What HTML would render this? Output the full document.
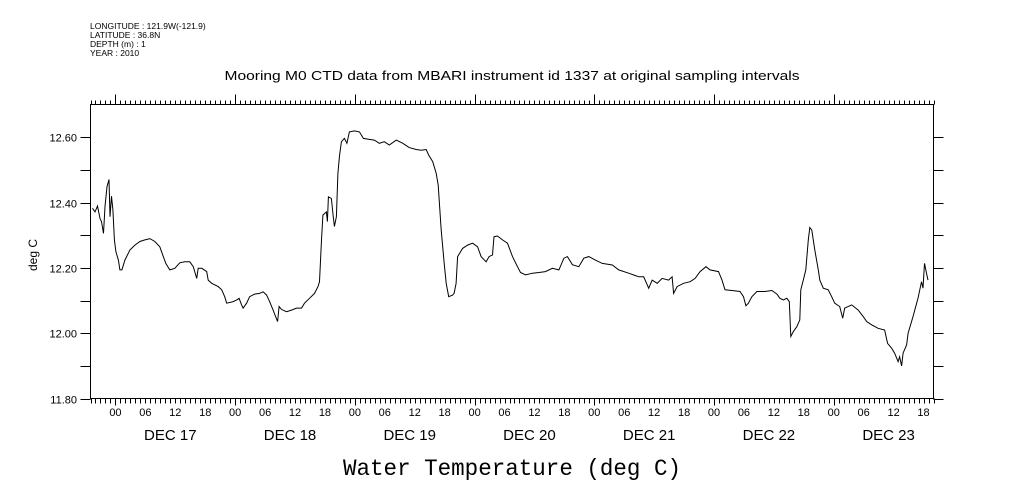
<!DOCTYPE html>
<html><head><meta charset="utf-8"><style>
html,body{margin:0;padding:0;background:#fff;}
svg{display:block;font-family:"Liberation Sans",sans-serif;}
</style></head><body>
<svg id="chart" width="1009" height="504" viewBox="0 0 1009 504">
<g font-size="8.5" fill="#000">
<text x="90" y="29">LONGITUDE : 121.9W(-121.9)</text>
<text x="90" y="38">LATITUDE : 36.8N</text>
<text x="90" y="47">DEPTH (m) : 1</text>
<text x="90" y="56">YEAR : 2010</text>
</g>
<text x="512" y="80" font-size="12.5" text-anchor="middle" textLength="575" lengthAdjust="spacingAndGlyphs">Mooring M0 CTD data from MBARI instrument id 1337 at original sampling intervals</text>
<text x="0" y="0" font-size="12" text-anchor="middle" transform="translate(37,255) rotate(-90)">deg C</text>
<text x="512" y="475" font-size="23" font-family="Liberation Mono, monospace" text-anchor="middle" textLength="338" lengthAdjust="spacingAndGlyphs">Water Temperature (deg C)</text>
<rect x="90.5" y="104.5" width="843" height="294" fill="none" stroke="#000" stroke-width="1"/>
<g id="axes"></g>
<path id="series" fill="none" stroke="#000" stroke-width="1"/>
</svg>
<script>
const hours = [-4.6,-4.1,-3.6,-3.1,-2.8,-2.4,-2.1,-1.7,-1.3,-1.1,-0.8,-0.5,-0.2,0.1,0.6,0.9,1.3,1.9,2.9,3.9,4.9,5.9,6.9,7.9,8.9,9.6,10.1,10.9,11.9,12.9,13.9,14.9,15.6,16.3,16.6,17.3,18.3,18.6,19.3,20.6,21.3,21.9,22.3,23.6,24.3,24.8,25.3,25.6,26.3,26.9,27.9,28.9,29.6,30.3,30.9,31.6,32.1,32.5,32.8,33.3,34.3,35.3,36.3,37.3,37.9,38.9,39.9,40.6,40.9,41.3,41.6,42.3,42.5,42.7,43.3,43.6,43.9,44.3,44.6,44.9,45.3,45.9,46.4,46.9,47.9,48.9,49.7,50.9,51.9,52.9,53.9,54.9,56.3,57.6,58.9,60.3,61.3,62.3,62.8,63.6,64.3,64.7,65.3,65.9,66.3,66.8,67.6,67.9,68.3,68.6,69.6,70.6,71.6,72.6,73.3,74.3,74.9,75.6,75.9,76.6,77.6,78.6,79.6,80.6,81.2,82.2,83.6,84.9,86.2,87.6,88.9,89.9,90.6,91.6,92.9,93.9,94.9,96.2,97.6,99.6,100.9,102.9,104.9,105.9,106.9,107.6,108.6,109.6,110.9,111.6,111.9,112.6,113.9,115.2,116.2,117.2,118.4,119.2,120.9,121.6,122.2,123.6,125.2,125.9,126.4,126.9,127.6,128.6,130.2,131.6,132.6,133.2,133.9,134.6,135.1,135.4,135.9,136.6,137.2,137.4,137.9,138.4,138.9,139.2,139.6,140.2,140.9,141.2,141.9,142.9,143.6,144.2,145.2,145.8,146.2,147.6,148.9,149.9,150.6,151.6,152.9,154.2,154.8,155.6,156.2,156.9,157.2,157.6,157.9,158.6,158.9,159.9,160.9,161.6,161.9,162.2,162.6,162.9];
const temps = [12.383,12.372,12.39,12.352,12.342,12.306,12.388,12.449,12.471,12.357,12.42,12.378,12.286,12.25,12.224,12.194,12.194,12.224,12.255,12.27,12.281,12.286,12.29,12.281,12.265,12.235,12.214,12.194,12.199,12.216,12.219,12.219,12.204,12.168,12.199,12.199,12.189,12.163,12.153,12.143,12.133,12.112,12.092,12.097,12.102,12.107,12.087,12.077,12.092,12.112,12.12,12.122,12.127,12.117,12.097,12.071,12.051,12.036,12.082,12.073,12.066,12.071,12.077,12.077,12.092,12.107,12.122,12.143,12.158,12.286,12.362,12.372,12.342,12.418,12.413,12.367,12.327,12.357,12.49,12.541,12.587,12.597,12.582,12.617,12.62,12.617,12.597,12.594,12.592,12.582,12.587,12.577,12.592,12.582,12.569,12.563,12.561,12.563,12.546,12.526,12.49,12.454,12.316,12.214,12.153,12.112,12.117,12.122,12.153,12.235,12.26,12.27,12.276,12.265,12.235,12.219,12.235,12.24,12.296,12.298,12.286,12.276,12.235,12.204,12.186,12.179,12.184,12.186,12.189,12.199,12.194,12.23,12.235,12.21,12.204,12.23,12.235,12.224,12.214,12.209,12.194,12.184,12.173,12.173,12.138,12.163,12.153,12.168,12.163,12.173,12.122,12.143,12.153,12.158,12.168,12.189,12.204,12.194,12.189,12.163,12.133,12.131,12.128,12.112,12.084,12.092,12.112,12.128,12.128,12.131,12.12,12.107,12.102,12.107,12.097,11.99,12.005,12.02,12.041,12.133,12.163,12.194,12.286,12.324,12.316,12.255,12.194,12.163,12.138,12.133,12.112,12.092,12.082,12.046,12.077,12.087,12.071,12.051,12.036,12.026,12.015,12.01,11.969,11.954,11.939,11.913,11.928,11.9,11.939,11.964,12.0,12.051,12.107,12.158,12.138,12.214,12.184,12.163];
const yTickValues = [11.8,11.9,12.0,12.1,12.2,12.3,12.4,12.5,12.6];
const yTickLabels = ["11.80","","12.00","","12.20","","12.40","","12.60"];
const dayLabels = ["DEC 17","DEC 18","DEC 19","DEC 20","DEC 21","DEC 22","DEC 23"];
const hourLabels = ["00","06","12","18"];

const X0=90.5, X1=933.5, Y0=104.5, Y1=398.5, HMIN=-5, HMAX=164, VMIN=11.8, VMAX=12.701;
const sx = h => X0 + (h-HMIN)/(HMAX-HMIN)*(X1-X0);
const sy = v => Y1 - (v-VMIN)/(VMAX-VMIN)*(Y1-Y0);
const NS="http://www.w3.org/2000/svg";
const axes=document.getElementById('axes');
function mk(tag,attrs,txt){const e=document.createElementNS(NS,tag);for(const k in attrs)e.setAttribute(k,attrs[k]);if(txt!==undefined)e.textContent=txt;axes.appendChild(e);return e;}
let d='';
for(let h=HMIN;h<=HMAX;h++){
  const x=Math.round(sx(h))+0.5;
  const major=((h%24)+24)%24===0;
  d+=`M${x},${Y0}V${Y0-(major?10:4)}M${x},${Y1}V${Y1+(major?7:5)}`;
}
yTickValues.forEach((v,i)=>{
  const y=Math.round(sy(v))+0.5;
  d+=`M${X0},${y}H${X0-10}M${X1},${y}H${X1+10}`;
  if(yTickLabels[i]){
    const t=mk('text',{x:77,y:y+4,'font-size':11,'text-anchor':'end'},yTickLabels[i]);
    
    
  }
});
const tk=mk('path',{d:d,stroke:'#000','stroke-width':1,fill:'none'});


for(let h=0;h<=HMAX;h+=6){
  const t=mk('text',{x:sx(h),y:416,'font-size':11,'text-anchor':'middle'},hourLabels[(h/6)%4]);
  
  
}
dayLabels.forEach((lab,i)=>{
  const t=mk('text',{x:sx(i*24+12)-5,y:440,'font-size':15,'text-anchor':'middle'},lab);
  
  
});
let p='';
hours.forEach((h,i)=>{p+=(i?'L':'M')+sx(h).toFixed(1)+','+sy(temps[i]).toFixed(1);});
document.getElementById('series').setAttribute('d',p);
</script>
</body></html>
